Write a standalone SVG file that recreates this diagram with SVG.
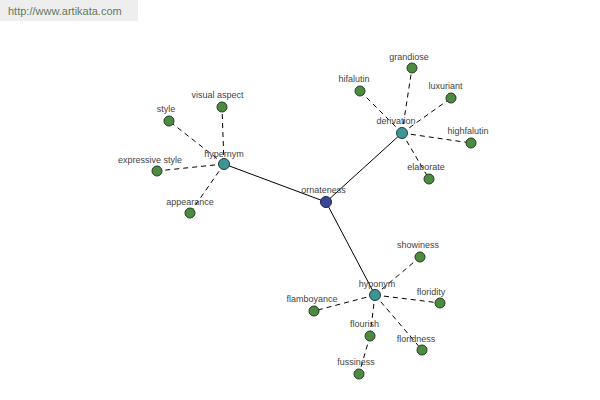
<svg xmlns="http://www.w3.org/2000/svg" width="600" height="400" viewBox="0 0 600 400">
<style>
.bg{fill:#ffffff}
.wm{fill:#eeeeee}
.wmt{font-family:"Liberation Sans",Arial,sans-serif;font-size:11px;fill:#5e7a5e}
.lbl{font-family:"Liberation Sans",Arial,sans-serif;font-size:9px;fill:#444444;text-anchor:middle}
.solid{stroke:#000000;stroke-width:1;fill:none}
.dash{stroke:#000000;stroke-width:1;fill:none;stroke-dasharray:5,4}
.leaf{fill:#4f8a42;stroke:#1e3d1e;stroke-width:1}
.hub{fill:#3f9595;stroke:#1e3d3d;stroke-width:1}
.root{fill:#3c4796;stroke:#1c2250;stroke-width:1}
</style>
<rect class="bg" x="0" y="0" width="600" height="400"/>
<rect class="wm" x="0" y="0" width="138" height="21"/>
<text class="wmt" x="8" y="15">http://www.artikata.com</text>
<g id="connectors">
<line class="solid" x1="326" y1="202" x2="224" y2="164"/>
<line class="solid" x1="326" y1="202" x2="402" y2="133"/>
<line class="solid" x1="326" y1="202" x2="375" y2="295"/>
<line class="dash" x1="224" y1="164" x2="222" y2="107"/>
<line class="dash" x1="224" y1="164" x2="169" y2="121"/>
<line class="dash" x1="224" y1="164" x2="157" y2="171"/>
<line class="dash" x1="224" y1="164" x2="190" y2="213"/>
<line class="dash" x1="402" y1="133" x2="412" y2="68"/>
<line class="dash" x1="402" y1="133" x2="360" y2="91"/>
<line class="dash" x1="402" y1="133" x2="451" y2="98"/>
<line class="dash" x1="402" y1="133" x2="471" y2="143"/>
<line class="dash" x1="402" y1="133" x2="429" y2="179"/>
<line class="dash" x1="375" y1="295" x2="420" y2="257"/>
<line class="dash" x1="375" y1="295" x2="440" y2="303"/>
<line class="dash" x1="375" y1="295" x2="422" y2="350"/>
<line class="dash" x1="375" y1="295" x2="314" y2="311"/>
<line class="dash" x1="375" y1="295" x2="370" y2="336"/>
<line class="dash" x1="370" y1="336" x2="359" y2="374"/>
</g>
<g id="ornateness"><circle class="root" cx="326" cy="202" r="5.5"/><text class="lbl" x="323.5" y="193">ornateness</text></g>
<g id="hypernym"><circle class="hub" cx="224" cy="164" r="5.5"/><text class="lbl" x="224" y="157">hypernym</text></g>
<g id="derivation"><circle class="hub" cx="402" cy="133" r="5.5"/><text class="lbl" x="396" y="124">derivation</text></g>
<g id="hyponym"><circle class="hub" cx="375" cy="295" r="5.5"/><text class="lbl" x="377" y="287">hyponym</text></g>
<g id="visual-aspect"><circle class="leaf" cx="222" cy="107" r="5"/><text class="lbl" x="217.5" y="98">visual aspect</text></g>
<g id="style"><circle class="leaf" cx="169" cy="121" r="5"/><text class="lbl" x="166" y="112">style</text></g>
<g id="expressive-style"><circle class="leaf" cx="157" cy="171" r="5"/><text class="lbl" x="150" y="163">expressive style</text></g>
<g id="appearance"><circle class="leaf" cx="190" cy="213" r="5"/><text class="lbl" x="190" y="205">appearance</text></g>
<g id="grandiose"><circle class="leaf" cx="412" cy="68" r="5"/><text class="lbl" x="409" y="60">grandiose</text></g>
<g id="hifalutin"><circle class="leaf" cx="360" cy="91" r="5"/><text class="lbl" x="354" y="82">hifalutin</text></g>
<g id="luxuriant"><circle class="leaf" cx="451" cy="98" r="5"/><text class="lbl" x="445.5" y="89">luxuriant</text></g>
<g id="highfalutin"><circle class="leaf" cx="471" cy="143" r="5"/><text class="lbl" x="468" y="134">highfalutin</text></g>
<g id="elaborate"><circle class="leaf" cx="429" cy="179" r="5"/><text class="lbl" x="426" y="170">elaborate</text></g>
<g id="showiness"><circle class="leaf" cx="420" cy="257" r="5"/><text class="lbl" x="418" y="248">showiness</text></g>
<g id="floridity"><circle class="leaf" cx="440" cy="303" r="5"/><text class="lbl" x="431" y="295">floridity</text></g>
<g id="floridness"><circle class="leaf" cx="422" cy="350" r="5"/><text class="lbl" x="416" y="342">floridness</text></g>
<g id="flamboyance"><circle class="leaf" cx="314" cy="311" r="5"/><text class="lbl" x="312" y="302">flamboyance</text></g>
<g id="flourish"><circle class="leaf" cx="370" cy="336" r="5"/><text class="lbl" x="364.5" y="327">flourish</text></g>
<g id="fussiness"><circle class="leaf" cx="359" cy="374" r="5"/><text class="lbl" x="356" y="365">fussiness</text></g>
</svg>
